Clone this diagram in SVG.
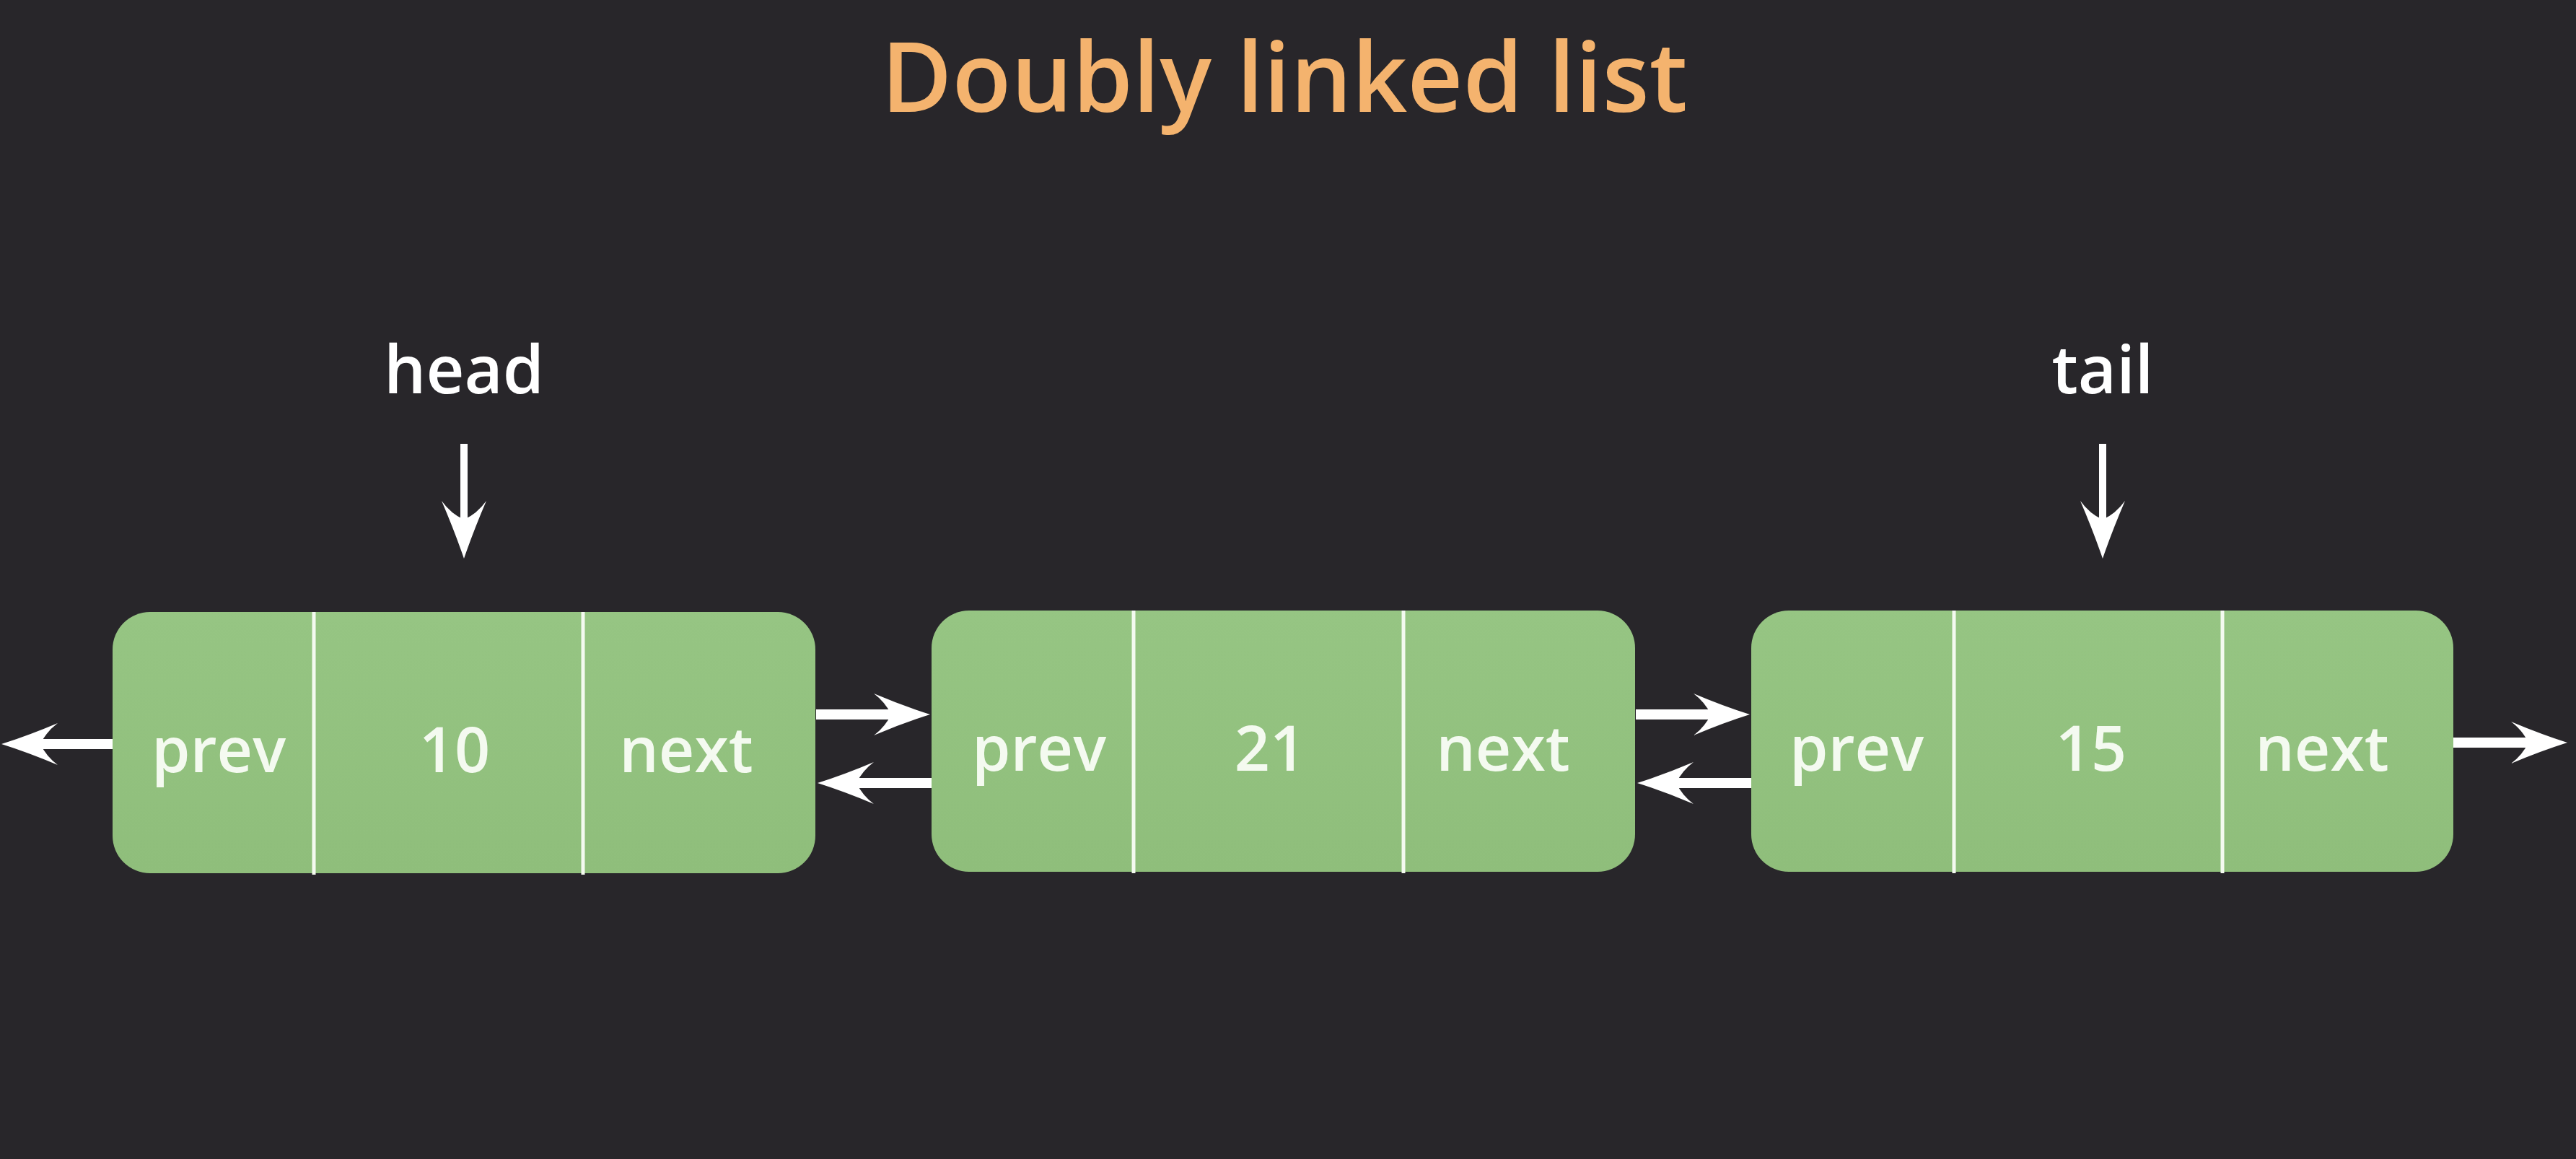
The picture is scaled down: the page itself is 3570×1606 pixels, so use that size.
<svg xmlns="http://www.w3.org/2000/svg" width="3570" height="1606" viewBox="0 0 3570 1606">
  <style>
    .bg { fill: #28262a; }
    .node { fill: url(#g); }
    .div { stroke: #f4faf0; stroke-width: 5; }
    .lbl { font-family: "Open Sans", "Noto Sans", sans-serif; font-size: 86px; fill: #f4faf0; text-anchor: middle; font-weight: 600; }
    .ptr { font-family: "Open Sans", "Noto Sans", sans-serif; font-size: 92px; fill: #ffffff; text-anchor: middle; font-weight: 600; }
    .title { font-family: "Open Sans", "Noto Sans", sans-serif; font-size: 134px; fill: #f4b36e; text-anchor: middle; font-weight: 600; }
    .h { stroke: #ffffff; stroke-width: 14; fill: none; marker-end: url(#ah); }
    .v { stroke: #ffffff; stroke-width: 10; fill: none; marker-end: url(#av); }
  </style>
  <defs>
    <linearGradient id="g" x1="0" y1="0" x2="0" y2="1">
      <stop offset="0" stop-color="#96c583"/>
      <stop offset="1" stop-color="#8fbe7b"/>
    </linearGradient>
    <marker id="ah" markerUnits="userSpaceOnUse" viewBox="0 0 78 58" markerWidth="78" markerHeight="58" refX="24" refY="29" orient="auto">
      <path d="M0,0 Q40,17 78,29 Q40,41 0,58 Q16,46 24,29 Q16,12 0,0 Z" fill="#ffffff"/>
    </marker>
    <marker id="av" markerUnits="userSpaceOnUse" viewBox="0 0 80 62" markerWidth="80" markerHeight="62" refX="26" refY="31" orient="auto">
      <path d="M0,0 Q42,18 80,31 Q42,44 0,62 Q18,49 26,31 Q18,13 0,0 Z" fill="#ffffff"/>
    </marker>
  </defs>
  <rect class="bg" x="0" y="0" width="3570" height="1606"/>

  <text id="title" class="title" x="1780" y="155">Doubly linked list</text>

  <g id="head">
    <text class="ptr" x="643" y="545">head</text>
  </g>
  <g id="tail">
    <text class="ptr" x="2914" y="545">tail</text>
  </g>

  <g id="node1">
    <rect class="node" x="156" y="848" width="974" height="362" rx="52"/>
    <line class="div" x1="435" y1="848" x2="435" y2="1212"/>
    <line class="div" x1="808" y1="848" x2="808" y2="1212"/>
    <text class="lbl" x="303" y="1070">prev</text>
    <text class="lbl" x="630" y="1070">10</text>
    <text class="lbl" x="951" y="1070">next</text>
  </g>
  <g id="node2">
    <rect class="node" x="1291" y="846" width="975" height="362" rx="52"/>
    <line class="div" x1="1571" y1="846" x2="1571" y2="1210"/>
    <line class="div" x1="1945" y1="846" x2="1945" y2="1210"/>
    <text class="lbl" x="1440" y="1068">prev</text>
    <text class="lbl" x="1760" y="1068">21</text>
    <text class="lbl" x="2083" y="1068">next</text>
  </g>
  <g id="node3">
    <rect class="node" x="2427" y="846" width="973" height="362" rx="52"/>
    <line class="div" x1="2708" y1="846" x2="2708" y2="1210"/>
    <line class="div" x1="3080" y1="846" x2="3080" y2="1210"/>
    <text class="lbl" x="2573" y="1068">prev</text>
    <text class="lbl" x="2898" y="1068">15</text>
    <text class="lbl" x="3218" y="1068">next</text>
  </g>

  <g id="connectors">
    <line class="v" x1="643" y1="615" x2="643" y2="720"/>
    <line class="v" x1="2914" y1="615" x2="2914" y2="720"/>
    <line class="h" x1="156" y1="1031" x2="56" y2="1031"/>
    <line class="h" x1="1131" y1="990" x2="1235" y2="990"/>
    <line class="h" x1="1291" y1="1085" x2="1187" y2="1085"/>
    <line class="h" x1="2267" y1="990" x2="2371" y2="990"/>
    <line class="h" x1="2427" y1="1085" x2="2323" y2="1085"/>
    <line class="h" x1="3400" y1="1029" x2="3504" y2="1029"/>
  </g>
</svg>
